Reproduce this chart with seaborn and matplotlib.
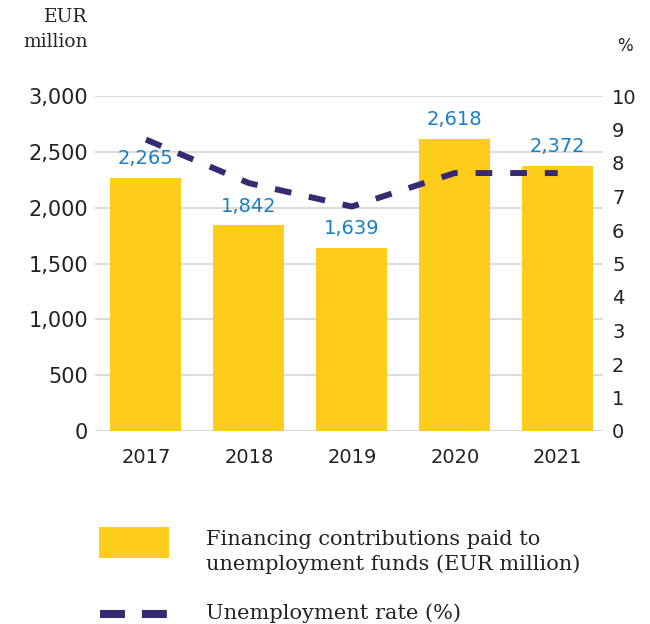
import numpy as np
import pandas as pd
import matplotlib
matplotlib.use("Agg")
import matplotlib.pyplot as plt
import seaborn as sns
from matplotlib.patches import Rectangle

years = ['2017', '2018', '2019', '2020', '2021']
contributions = [2265, 1842, 1639, 2618, 2372]
unemployment = [8.7, 7.4, 6.7, 7.7, 7.7]

bar_label = ['Financing contributions paid to', 'unemployment funds (EUR million)']
line_label = 'Unemployment rate (%)'

yellow = '#fecd1b'
navy = '#372a72'
blue = '#1b7fc3'
text_c = '#222222'

sns.set_style('white')
plt.rcParams['font.family'] = ['DejaVu Sans']

df = pd.DataFrame({'year': years, 'contrib': contributions, 'rate': unemployment})

fig = plt.figure(figsize=(6.5, 6.24), dpi=100)
ax = fig.add_axes([95 / 650, 1 - 431 / 624, (603 - 95) / 650, (431 - 96) / 624])
sns.barplot(data=df, x='year', y='contrib', color=yellow, width=0.69,
            saturation=1, linewidth=0, ax=ax)
ax.bar_label(ax.containers[0], labels=[f'{v:,}' for v in contributions],
             padding=7, color=blue, fontsize=14)
ax.set_xlim(-0.495, 4.44)
ax.set_ylim(0, 3000)
ax.set_yticks(range(0, 3001, 500))
ax.set_yticklabels([f'{v:,}' for v in range(0, 3001, 500)])
ax.yaxis.grid(True, color='#dcdcdc', lw=1.5)
ax.set_axisbelow(True)
ax.set_xlabel('')
ax.set_ylabel('')
sns.despine(ax=ax, left=True, bottom=True)
ax.tick_params(axis='both', length=0, labelsize=14, labelcolor=text_c)
ax.tick_params(axis='y', pad=5, labelsize=15)
ax.tick_params(axis='x', pad=12)

# unemployment rate on the right axis
ax2 = ax.twinx()
sns.lineplot(x=np.arange(len(years)), y=unemployment, ax=ax2, color=navy, lw=4.3)
ax2.lines[0].set_linestyle((0, (2.8, 3)))
ax2.lines[0].set_dash_capstyle('butt')
ax2.set_ylim(0, 10)
ax2.set_yticks(range(0, 11))
ax2.set_ylabel('')
for s in ax2.spines.values():
    s.set_visible(False)
ax2.tick_params(axis='y', length=0, pad=6.5, labelsize=14, labelcolor=text_c)

fig.text(88 / 650, 1 - 22 / 624, 'EUR', ha='right', va='baseline',
         family='DejaVu Serif', fontsize=13.5, color=text_c)
fig.text(88 / 650, 1 - 47 / 624, 'million', ha='right', va='baseline',
         family='DejaVu Serif', fontsize=13.5, color=text_c)
fig.text(625 / 650, 1 - 51 / 624, '%', ha='center', va='baseline',
         fontsize=12, color=text_c)

# legend drawn in pixel coordinates
lg = fig.add_axes([0, 0, 1, 1])
lg.set_xlim(0, 650)
lg.set_ylim(624, 0)
lg.axis('off')
lg.patch.set_alpha(0)
lg.add_patch(Rectangle((99, 527), 70, 31, color=yellow, lw=0))
lg.text(206, 545, bar_label[0], va='baseline', family='DejaVu Serif',
        fontsize=15, color=text_c)
lg.text(206, 570, bar_label[1], va='baseline', family='DejaVu Serif',
        fontsize=15, color=text_c)
lg.plot([100, 167], [614, 614], color=navy, lw=5.8,
        linestyle=(0, (3.1, 2.1)), dash_capstyle='butt')
lg.text(206, 619, line_label, va='baseline', family='DejaVu Serif',
        fontsize=15, color=text_c)

fig.savefig('out.png', dpi=100)
